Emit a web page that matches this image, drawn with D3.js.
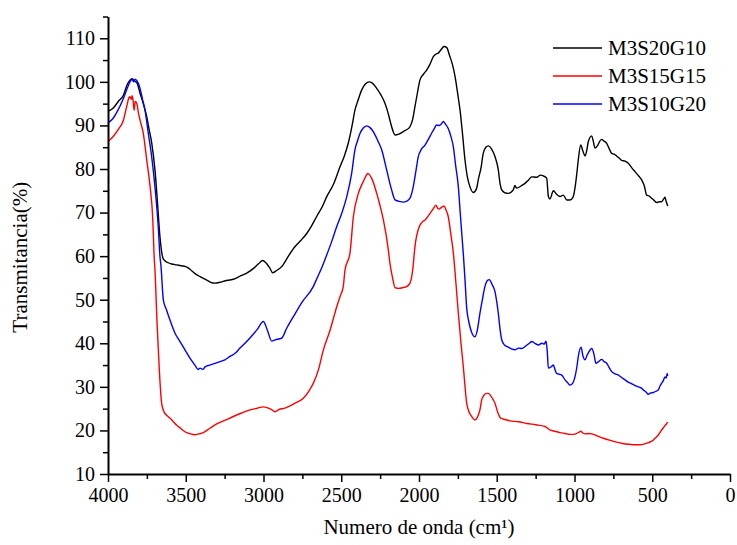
<!DOCTYPE html>
<html>
<head>
<meta charset="utf-8">
<script src="https://cdn.jsdelivr.net/npm/d3@7"></script>
<style>
  html, body { margin: 0; padding: 0; background: #fff; }
  svg { display: block; }
  text { font-family: "Liberation Serif", "Times New Roman", serif; fill: #000; }
</style>
</head>
<body>
<svg id="chart" width="737" height="545"></svg>
<script>
// FTIR spectra: [wavenumber (cm-1), transmittance (%)]
const seriesNames = ["M3S20G10", "M3S15G15", "M3S10G20"];
const seriesColors = ["#000000", "#ff0000", "#0000ff"];

const m3s20g10 = [
  [4000,93.2],[3966,94.0],[3934,95.5],[3900,97.0],[3875,99.5],[3859,100.4],[3845,100.7],[3830,100.2],
  [3814,99.8],[3794,97.4],[3773,95.0],[3751,92.0],[3735,89.0],[3719,86.0],[3698,79.8],[3683,72.9],
  [3666,64.5],[3655,61.0],[3644,59.3],[3620,58.6],[3590,58.2],[3560,58.0],[3530,57.8],[3500,57.6],
  [3473,57.0],[3440,56.0],[3408,55.3],[3370,54.6],[3340,54.0],[3312,53.8],[3280,54.0],[3250,54.3],
  [3194,54.7],[3151,55.4],[3108,56.1],[3060,57.3],[3030,58.3],[3006,59.0],[2985,58.5],[2960,57.3],
  [2941,56.2],[2920,56.6],[2883,57.6],[2840,60.0],[2797,62.2],[2760,63.6],[2722,65.2],[2690,67.0],
  [2658,69.1],[2620,71.5],[2594,73.6],[2550,76.5],[2508,80.5],[2480,83.0],[2455,85.9],[2430,90.0],
  [2412,93.5],[2390,96.0],[2369,98.1],[2345,99.5],[2320,100.0],[2300,99.7],[2272,98.5],[2245,97.0],
  [2219,95.1],[2200,93.0],[2182,90.5],[2165,88.5],[2154,87.8],[2130,88.0],[2101,88.6],[2080,89.0],
  [2058,89.7],[2040,91.5],[2026,94.3],[2010,97.5],[1994,100.4],[1970,101.8],[1951,102.7],[1930,104.0],
  [1908,105.8],[1890,106.4],[1876,106.6],[1860,107.3],[1839,108.1],[1820,107.8],[1805,106.2],[1785,104.0],
  [1768,101.2],[1750,97.0],[1736,93.5],[1720,88.0],[1704,82.0],[1688,78.0],[1672,75.9],[1651,74.6],
  [1630,75.5],[1619,77.5],[1600,80.5],[1587,83.6],[1570,85.0],[1554,85.3],[1535,84.7],[1511,82.8],
  [1490,79.8],[1479,76.7],[1468,75.2],[1450,74.6],[1426,74.4],[1394,75.2],[1383,76.2],[1372,75.6],
  [1340,76.2],[1318,76.7],[1295,77.5],[1275,78.2],[1243,78.1],[1220,78.6],[1200,78.4],[1179,77.9],
  [1168,73.7],[1158,73.1],[1136,75.0],[1115,74.2],[1093,73.7],[1072,74.0],[1050,72.9],[1029,72.9],
  [1010,73.5],[997,75.6],[985,79.0],[976,82.0],[960,85.5],[945,84.0],[932,83.0],[920,84.5],
  [911,86.3],[889,87.6],[880,86.5],[868,84.8],[850,85.5],[835,86.5],[825,86.8],[810,86.4],
  [793,85.9],[775,84.5],[761,83.6],[745,83.4],[729,83.0],[710,82.4],[697,82.0],[675,81.8],
  [654,81.3],[630,80.2],[611,79.4],[590,78.5],[568,77.5],[550,76.0],[536,74.0],[520,73.8],
  [504,73.3],[488,72.8],[472,72.3],[455,72.5],[440,72.5],[425,73.2],[418,73.5],[410,72.5],[400,71.5]
];

const m3s15g15 = [
  [4000,86.3],[3968,87.4],[3936,89.0],[3901,91.2],[3880,94.3],[3865,96.4],[3859,96.6],[3850,96.0],
  [3845,96.8],[3839,95.8],[3832,93.5],[3825,95.5],[3815,95.1],[3805,93.0],[3794,91.2],[3773,88.2],
  [3751,82.1],[3730,76.2],[3713,69.1],[3702,59.1],[3698,56.8],[3685,45.0],[3670,33.9],[3655,26.2],
  [3640,24.3],[3620,23.4],[3601,22.8],[3580,22.0],[3558,21.2],[3530,20.4],[3505,19.7],[3470,19.2],
  [3441,19.0],[3415,19.2],[3387,19.5],[3345,20.5],[3301,21.5],[3250,22.3],[3194,23.2],[3140,24.0],
  [3087,24.7],[3040,25.1],[3001,25.4],[2960,25.0],[2940,24.6],[2926,24.3],[2900,24.8],[2862,25.1],
  [2800,26.2],[2744,27.4],[2700,29.5],[2680,30.8],[2647,33.9],[2615,38.5],[2572,43.0],[2529,48.4],
  [2508,50.7],[2487,53.0],[2476,56.8],[2444,60.7],[2422,69.1],[2390,74.4],[2360,77.0],[2336,78.7],
  [2330,79.0],[2300,77.5],[2272,74.4],[2250,71.5],[2229,68.3],[2197,61.4],[2187,58.4],[2170,55.0],
  [2154,52.8],[2130,52.6],[2101,52.8],[2080,53.0],[2058,53.8],[2040,57.0],[2026,62.2],[1998,66.8],
  [1980,67.8],[1961,68.3],[1945,69.0],[1929,69.8],[1910,70.8],[1891,71.7],[1880,71.0],[1870,70.8],
  [1855,71.2],[1839,71.5],[1825,70.5],[1812,69.1],[1795,65.0],[1779,60.7],[1763,54.0],[1747,46.9],
  [1730,40.0],[1715,34.6],[1693,26.2],[1675,24.0],[1661,23.2],[1640,22.4],[1625,23.0],[1608,24.7],
  [1597,27.0],[1580,28.2],[1565,28.5],[1554,28.5],[1540,28.0],[1525,27.2],[1511,26.2],[1495,24.3],
  [1474,22.8],[1445,22.5],[1415,22.2],[1360,22.0],[1307,21.6],[1250,21.3],[1190,20.9],[1158,20.1],
  [1125,19.8],[1093,19.5],[1060,19.3],[1029,19.1],[1005,19.1],[986,19.3],[970,19.6],[960,19.8],
  [945,19.4],[932,19.2],[910,19.3],[889,19.2],[850,18.7],[814,18.2],[770,17.7],[729,17.3],
  [690,17.0],[643,16.8],[610,16.7],[579,16.7],[550,16.9],[525,17.2],[500,17.6],[482,18.2],
  [460,19.0],[440,20.1],[420,21.0],[407,21.6],[400,21.9]
];

const m3s10g20 = [
  [4000,90.6],[3968,91.6],[3936,93.5],[3901,96.2],[3871,99.0],[3855,100.2],[3845,100.6],[3835,100.0],
  [3825,100.6],[3814,100.2],[3800,99.2],[3794,98.5],[3778,96.0],[3762,93.5],[3741,88.2],[3719,82.8],
  [3698,75.9],[3677,66.8],[3666,60.0],[3659,57.6],[3644,49.9],[3623,47.6],[3601,45.3],[3569,42.3],
  [3537,40.4],[3505,38.5],[3473,36.6],[3441,35.0],[3420,34.0],[3408,34.3],[3390,34.0],[3376,34.6],
  [3345,35.0],[3312,35.4],[3280,35.8],[3248,36.2],[3215,37.0],[3183,37.7],[3151,38.9],[3119,40.0],
  [3080,41.5],[3040,43.2],[3001,45.0],[2975,43.0],[2947,40.5],[2925,40.8],[2883,41.2],[2850,43.5],
  [2808,46.1],[2755,49.3],[2680,53.0],[2655,55.0],[2620,57.8],[2594,60.2],[2560,63.5],[2529,66.8],
  [2495,70.0],[2465,73.6],[2433,79.0],[2412,84.4],[2395,86.5],[2379,88.2],[2355,89.5],[2336,89.9],
  [2315,89.5],[2294,88.6],[2265,86.5],[2240,84.4],[2208,79.8],[2176,75.2],[2154,72.9],[2130,72.6],
  [2101,72.4],[2080,72.6],[2058,73.3],[2037,75.9],[2020,79.5],[2005,82.8],[1985,84.5],[1961,85.5],
  [1940,86.8],[1919,88.2],[1900,89.4],[1887,90.1],[1870,90.0],[1855,90.4],[1844,90.9],[1830,90.3],
  [1812,89.3],[1795,87.5],[1779,85.1],[1765,81.0],[1747,75.9],[1735,70.0],[1725,65.2],[1714,60.0],
  [1704,54.5],[1693,48.0],[1680,45.0],[1661,42.5],[1640,41.5],[1625,43.0],[1608,46.9],[1590,50.5],
  [1576,53.0],[1560,54.4],[1548,54.6],[1530,53.5],[1511,51.8],[1500,49.5],[1490,46.9],[1478,43.0],
  [1468,40.8],[1450,39.6],[1426,39.1],[1405,38.7],[1383,38.5],[1360,38.9],[1340,38.8],[1310,39.5],
  [1290,40.0],[1275,40.4],[1255,40.0],[1232,39.6],[1210,40.0],[1195,39.8],[1183,40.5],[1175,38.0],
  [1168,34.3],[1150,34.6],[1136,35.0],[1125,33.9],[1115,33.1],[1082,32.7],[1061,31.6],[1045,31.0],
  [1029,30.4],[1012,30.8],[997,32.3],[985,34.5],[976,36.9],[958,39.1],[945,37.0],[932,36.2],
  [920,37.2],[911,37.8],[889,38.8],[875,37.5],[862,35.4],[845,35.8],[825,36.3],[810,35.8],
  [793,35.4],[775,34.3],[761,33.5],[740,33.0],[718,32.7],[695,32.1],[675,31.6],[655,31.1],
  [632,30.7],[610,30.3],[589,30.0],[570,29.7],[557,29.3],[540,28.8],[525,28.3],[510,28.6],
  [493,28.7],[475,29.0],[461,29.3],[450,30.2],[440,30.8],[428,31.5],[418,32.3],[410,32.0],
  [404,33.1],[400,32.5]
];

const xTicks = [4000, 3500, 3000, 2500, 2000, 1500, 1000, 500, 0];
const yTicks = [10, 20, 30, 40, 50, 60, 70, 80, 90, 100, 110];
const xTitle = "Numero de onda (cm\u00B9)";
const yTitle = "Transmitancia(%)";

const svg = d3.select("#chart");
const plot = { left: 108, right: 730, bottom: 474, top: 16.5 };

const x = d3.scaleLinear().domain([4000, 0]).range([plot.left, plot.right]);
const y = d3.scaleLinear().domain([10, 115]).range([plot.bottom, plot.top]);

const allSeries = [m3s20g10, m3s15g15, m3s10g20];

// spectra
const line = d3.line()
  .x(d => x(d[0]))
  .y(d => y(d[1]))
  .curve(d3.curveMonotoneX);

svg.append("g").selectAll("path")
  .data(allSeries)
  .join("path")
  .attr("d", line)
  .attr("fill", "none")
  .attr("stroke", (d, i) => seriesColors[i])
  .attr("stroke-width", 1.4)
  .attr("stroke-linejoin", "round");

// x axis: major ticks every 500, minor every 250
const xAxis = svg.append("g").attr("transform", `translate(0,${plot.bottom})`);
xAxis.call(d3.axisBottom(x).tickValues(xTicks).tickSize(8).tickSizeOuter(0).tickPadding(6).tickFormat(d3.format("d")));
xAxis.append("g").call(d3.axisBottom(x).tickValues(d3.range(3750, 0, -500)).tickSize(5).tickFormat(""))
  .select(".domain").remove();

// y axis: major ticks every 10, minor every 5
const yAxis = svg.append("g").attr("transform", `translate(${plot.left},0)`);
yAxis.call(d3.axisLeft(y).tickValues(yTicks).tickSize(8).tickSizeOuter(0).tickPadding(5).tickFormat(d3.format("d")));
yAxis.append("g").call(d3.axisLeft(y).tickValues(d3.range(15, 116, 10)).tickSize(5).tickFormat(""))
  .select(".domain").remove();

svg.selectAll(".domain").attr("stroke", "#000").attr("stroke-width", 2);
svg.selectAll(".tick line").attr("stroke", "#000").attr("stroke-width", 1.5);
svg.selectAll(".tick text")
  .attr("font-family", "'Liberation Serif', 'Times New Roman', serif")
  .attr("font-size", 20)
  .attr("fill", "#000");

// axis titles
svg.append("text")
  .attr("x", (plot.left + plot.right) / 2)
  .attr("y", 534)
  .attr("text-anchor", "middle")
  .attr("font-size", 21)
  .text(xTitle);

svg.append("text")
  .attr("transform", `translate(27,${(plot.top + plot.bottom) / 2 + 12}) rotate(-90)`)
  .attr("text-anchor", "middle")
  .attr("font-size", 21)
  .text(yTitle);

// legend
const legend = svg.append("g").attr("transform", "translate(553,48)");
const rows = legend.selectAll("g")
  .data(seriesNames)
  .join("g")
  .attr("transform", (d, i) => `translate(0,${i * 28})`);
rows.append("line")
  .attr("x1", 0).attr("x2", 49)
  .attr("stroke", (d, i) => seriesColors[i])
  .attr("stroke-width", 1.4);
rows.append("text")
  .attr("x", 55)
  .attr("y", 7)
  .attr("font-size", 21)
  .text(d => d);
</script>
</body>
</html>
